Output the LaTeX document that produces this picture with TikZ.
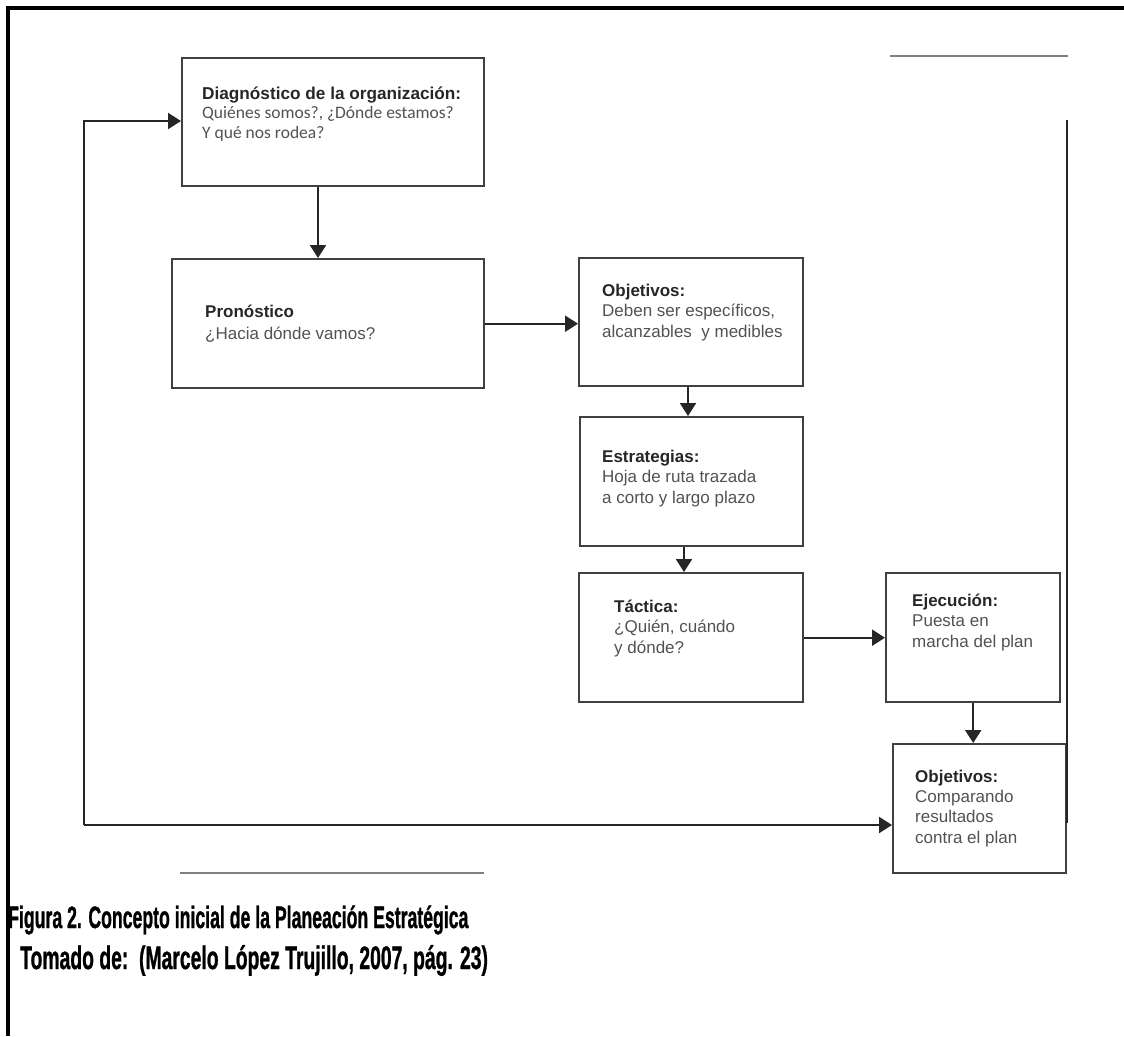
\documentclass[tikz,border=0pt]{standalone}
\usepackage{fontspec}
\setmainfont{Liberation Sans}
\newfontfamily\boxonefont{Carlito}
\newfontfamily\captionfont[FakeBold=1.2]{Liberation Sans Bold}
\usetikzlibrary{arrows.meta}

\begin{document}
\begin{tikzpicture}[x=1pt,y=-1pt,
  box/.style={draw=black!75, line width=2.4pt, rectangle, inner sep=0pt, anchor=north west},
  % text nodes are anchored at the baseline of their last line
  txt/.style={anchor=base west, inner sep=0pt, align=left, text=black!68,
    font=\fontsize{17}{20.2}\selectfont},
  arr/.style={draw=black!85, line width=2.2pt, -{Triangle[length=13pt,width=16pt]}},
  plainline/.style={draw=black!85, line width=2.4pt},
  greyrule/.style={draw=black!50, line width=1.8pt},
  framestyle/.style={draw=black, line width=3.4pt},
  captext/.style={anchor=base west, inner sep=0pt, text=black}]

  \useasboundingbox (0,0) rectangle (1124,1036);

  % outer frame (top and left sides)
  \draw[framestyle] (1124,8) -- (8,8) -- (8,1036);

  % boxes
  \node[box, minimum width=302pt, minimum height=128pt] (b1) at (181,57) {};
  \node[box, minimum width=312pt, minimum height=129pt] (b2) at (171,258) {};
  \node[box, minimum width=224pt, minimum height=128pt] (b3) at (578,257) {};
  \node[box, minimum width=223pt, minimum height=129pt] (b4) at (579,416) {};
  \node[box, minimum width=224pt, minimum height=129pt] (b5) at (578,572) {};
  \node[box, minimum width=174pt, minimum height=129pt] (b6) at (885,572) {};
  \node[box, minimum width=173pt, minimum height=129pt] (b7) at (892,743) {};

  % box texts
  \node[txt, font=\boxonefont\fontsize{17.5}{19.5}\selectfont] (t1) at (202,138)
    {{\color{black!85}\fontspec{Liberation Sans}\bfseries\fontsize{17.2}{19.5}\selectfont Diagnóstico de la organización:}\\Quiénes somos?, ¿Dónde estamos?\\Y qué nos rodea?};
  \node[txt] (t2) at (205,339) {{\color{black!85}\bfseries Pronóstico}\\[1.5pt]¿Hacia dónde vamos?};
  \node[txt] (t3) at (602,337) {{\color{black!85}\bfseries Objetivos:}\\Deben ser específicos,\\alcanzables\ \ y medibles};
  \node[txt] (t4) at (602,503) {{\color{black!85}\bfseries Estrategias:}\\Hoja de ruta trazada\\a corto y largo plazo};
  \node[txt] (t5) at (614,653) {{\color{black!85}\bfseries Táctica:}\\¿Quién, cuándo\\y dónde?};
  \node[txt] (t6) at (912,647) {{\color{black!85}\bfseries Ejecución:}\\Puesta en\\marcha del plan};
  \node[txt] (t7) at (915,843) {{\color{black!85}\bfseries Objetivos:}\\Comparando\\resultados\\contra el plan};

  % reference columns / rows for connectors
  \coordinate (c12) at (318,0);
  \coordinate (c34) at (688,0);
  \coordinate (c45) at (684,0);
  \coordinate (fl) at (84,825);
  \coordinate (fb) at (84,121);
  \coordinate (rt) at (1067,120);
  \coordinate (rb) at (1067,823);

  % main flow
  \draw[arr] (b1.south -| c12) -- (b2.north -| c12);
  \draw[arr] (b2.east) -- (b3.west |- b2.east);
  \draw[arr] (b3.south -| c34) -- (b4.north -| c34);
  \draw[arr] (b4.south -| c45) -- (b5.north -| c45);
  \draw[arr] (b5.east) -- (b6.west |- b5.east);
  \draw[arr] (b6.south) -- (b7.north -| b6.south);

  % feedback loop
  \draw[arr] (fl) -- (b7.west |- fl);
  \draw[arr] (fl) -- (fb) -- (b1.west |- fb);
  \draw[plainline] (rt) -- (rb);

  % thin grey rules
  \coordinate (g1a) at (890,56);
  \coordinate (g1b) at (1068,56);
  \coordinate (g2a) at (180,873);
  \coordinate (g2b) at (484,873);
  \draw[greyrule] (g1a) -- (g1b);
  \draw[greyrule] (g2a) -- (g2b);

  % caption
  \node[captext, font=\captionfont\fontsize{31}{31}\selectfont] (cap1) at (8,928)
    {\scalebox{0.57}[1]{Figura 2. Concepto inicial de la Planeación Estratégica}};
  \node[captext, font=\captionfont\fontsize{32.5}{32.5}\selectfont] (cap2) at (20,969)
    {\scalebox{0.595}[1]{Tomado de:\ \ (Marcelo López Trujillo, 2007, pág. 23)}};
\end{tikzpicture}
\end{document}
